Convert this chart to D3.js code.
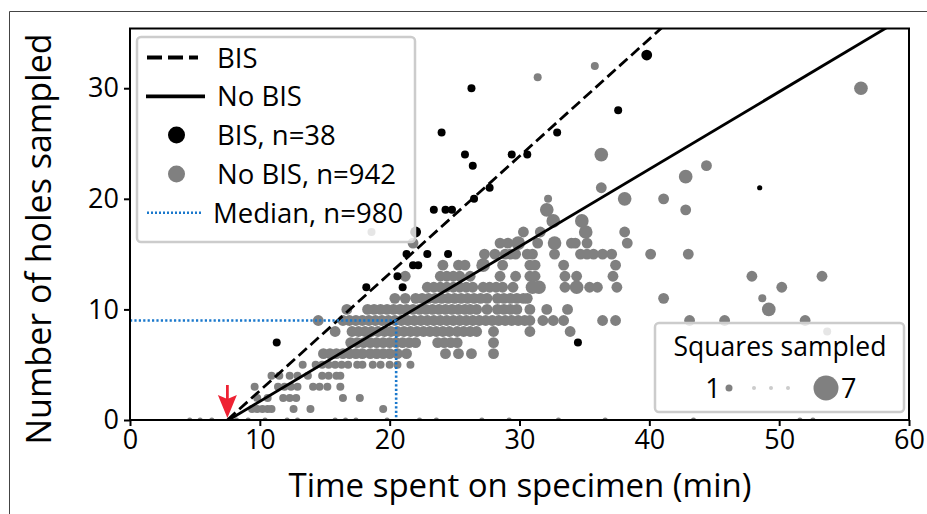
<!DOCTYPE html>
<html>
<head>
<meta charset="utf-8">
<script src="https://cdn.jsdelivr.net/npm/d3@7"></script>
<style>
  body { margin: 0; background: #fff; }
  svg { display: block; font-family: "Open Sans", sans-serif; }
</style>
</head>
<body>
<div id="chart"></div>
<script>
// No BIS samples, one row per number of holes: [holes, squares sampled, minutes...]
const noBisRows = [
  [0, 0, [4.6, 5.4, 6.3, 8.2, 9.1, 10.4, 12.1, 12.9, 15.8, 16.6, 17.4, 19.8, 22.3, 23.6, 27.1, 29.2, 33.0, 36.6, 43.4, 51.6, 52.6]],
  [1, 1, [9.4, 9.8, 10.2, 10.6, 10.9, 12.6, 13.9, 19.5]],
  [2, 1, [9.8, 10.6, 11.8, 12.3, 12.8, 16.4, 17.7]],
  [3, 1, [9.6, 11.4, 11.9, 12.4, 12.9, 14.1, 14.6, 15.2, 16.2]],
  [4, 1, [10.9, 11.5, 12.3, 12.9, 13.7, 14.8, 15.3, 15.9, 16.2]],
  [5, 1, [13.3, 14.3, 14.8, 15.3, 15.8, 16.3, 16.8, 17.5, 17.9, 18.7, 19.3, 20.0, 20.6, 21.6]],
  [6, 2, [14.9, 15.4, 15.9, 16.4, 16.9, 17.4, 17.9, 18.5, 19.0, 19.5, 20.0, 20.6, 21.3, 24.3, 25.3, 26.3, 28.0]],
  [7, 2, [17.0, 17.5, 18.0, 18.5, 19.0, 19.5, 20.0, 20.5, 21.0, 21.5, 22.0, 23.7, 24.2, 24.7, 25.2, 28.0]],
  [8, 2, [15.8, 17.1, 17.6, 18.1, 18.6, 19.1, 19.6, 20.1, 20.6, 21.1, 21.6, 22.1, 22.6, 23.1, 23.6, 24.1, 24.6, 25.2, 25.7, 26.2, 26.7, 28.0, 30.8, 33.9]],
  [8, 1, [53.7]],
  [9, 2, [14.5, 16.4, 16.9, 17.4, 17.9, 18.4, 18.9, 19.4, 19.9, 20.4, 20.9, 21.4, 21.9, 22.4, 22.9, 23.4, 23.9, 24.4, 24.9, 25.4, 25.9, 26.4, 26.9, 27.4, 27.9, 28.4, 28.9, 29.4, 29.9, 30.4, 30.8, 31.8, 32.6, 33.4, 36.4, 37.4, 43.1, 45.8, 52.0]],
  [10, 2, [16.7, 18.3, 18.8, 19.3, 19.8, 20.3, 20.8, 21.3, 21.8, 22.3, 22.8, 23.3, 23.8, 24.3, 24.8, 25.3, 25.8, 26.2, 26.7, 27.5, 28.3, 28.8, 29.3, 29.8, 30.8, 32.1, 33.7]],
  [10, 3, [49.2]],
  [11, 2, [20.4, 21.2, 22.0, 22.5, 23.0, 23.5, 24.0, 24.5, 25.0, 25.5, 26.0, 26.5, 27.0, 27.5, 28.3, 28.8, 29.3, 29.8, 30.3, 30.6, 41.1]],
  [11, 1, [48.7]],
  [12, 2, [22.9, 23.4, 23.9, 24.4, 24.9, 25.4, 25.9, 26.4, 27.2, 27.7, 28.2, 28.7, 29.5, 33.5, 35.4, 36.0, 37.5, 50.2]],
  [12, 3, [31.0, 31.5, 34.4]],
  [13, 2, [21.2, 23.9, 24.4, 24.9, 25.4, 26.2, 28.5, 29.7, 30.8, 31.2, 33.5, 34.4, 37.2, 47.9, 53.3]],
  [14, 2, [24.1, 25.3, 25.8, 28.7, 30.8, 31.2, 33.4, 37.4]],
  [14, 3, [27.2]],
  [15, 2, [27.3, 28.1, 28.9, 29.3, 29.7, 30.6, 31.0, 32.7, 34.7, 35.2, 35.7, 36.4, 37.1, 40.1, 43.0]],
  [16, 2, [21.8, 28.5, 29.1, 31.4, 34.0, 34.3, 35.2, 38.3]],
  [16, 3, [29.9, 32.7]],
  [17, 1, [18.6]],
  [17, 2, [30.3, 31.6, 38.1]],
  [17, 3, [35.1]],
  [18, 3, [32.6, 34.8]],
  [19, 2, [42.8]],
  [19, 3, [32.1]],
  [20, 1, [32.2]],
  [20, 2, [41.1]],
  [20, 3, [38.1]],
  [21, 2, [36.3]],
  [22, 3, [42.8]],
  [23, 2, [44.4]],
  [24, 3, [36.3]],
  [30, 3, [56.3]],
  [31, 1, [31.4]],
  [32, 1, [35.8]]
];

// BIS samples: [minutes, holes, squares sampled]
const bisPoints = [
  [39.8, 33, 2], [26.3, 30, 1], [37.6, 28, 1], [24.0, 26, 1], [32.9, 26, 1],
  [25.8, 24, 1], [29.4, 24, 1], [30.6, 24, 1], [26.4, 23, 1], [27.7, 21, 1],
  [26.5, 20, 1], [23.4, 19, 1], [24.3, 19, 1], [24.8, 19, 1], [22.0, 17, 2],
  [21.3, 15, 1], [22.9, 15, 1], [24.5, 15, 1], [21.8, 14, 1], [22.2, 14, 1],
  [20.6, 13, 1], [21.0, 12, 1], [18.2, 12, 1], [11.3, 7, 1], [34.5, 7, 1],
  [48.5, 21, 0]
];

// fitted lines: [slope (holes per min), x intercept (min)]
const fitBis = [1.06, 7.5];
const fitNoBis = [0.70, 7.6];
const median = [20.5, 9];
const xTicks = [0, 10, 20, 30, 40, 50, 60];
const yTicks = [0, 10, 20, 30];
const legendLabels = ["BIS", "No BIS", "BIS, n=38", "No BIS, n=942", "Median, n=980"];

const width = 927, height = 514;
const svg = d3.select("#chart").append("svg")
    .attr("width", width)
    .attr("height", height);

const x = d3.scaleLinear().domain([0, 60]).range([130, 909]);
const y = d3.scaleLinear().domain([0, 35.4]).range([420, 28.5]);
const r = d3.scaleLinear().domain([1, 7]).range([4, 12.5]);

// outer figure frame
svg.append("path")
    .attr("d", "M9.5,514V11.5H927")
    .attr("fill", "none")
    .attr("stroke", "#444")
    .attr("stroke-width", 1);

const plot = svg.append("g");
plot.append("clipPath").attr("id", "clip")
  .append("rect")
    .attr("x", x(0)).attr("y", y(35.4))
    .attr("width", x(60) - x(0)).attr("height", y(0) - y(35.4));

const body = plot.append("g").attr("clip-path", "url(#clip)");

const grayPts = noBisRows.flatMap(([h, sq, xs]) => xs.map(t => ({t, h, sq})));
body.selectAll(".nobis")
  .data(grayPts)
  .enter().append("circle")
    .attr("class", "nobis")
    .attr("cx", d => x(d.t))
    .attr("cy", d => y(d.h))
    .attr("r", d => r(d.sq))
    .attr("fill", "#808080");

body.selectAll(".bis")
  .data(bisPoints)
  .enter().append("circle")
    .attr("class", "bis")
    .attr("cx", d => x(d[0]))
    .attr("cy", d => y(d[1]))
    .attr("r", d => r(d[2]))
    .attr("fill", "#000");

// regression lines
const lineEnd = ([m, x0]) => [[x0, 0], [60, m * (60 - x0)]];
const line = d3.line().x(d => x(d[0])).y(d => y(d[1]));

body.append("path")
    .attr("d", line(lineEnd(fitBis)))
    .attr("fill", "none").attr("stroke", "#000")
    .attr("stroke-width", 2.8)
    .attr("stroke-dasharray", "11,5");

body.append("path")
    .attr("d", line(lineEnd(fitNoBis)))
    .attr("fill", "none").attr("stroke", "#000")
    .attr("stroke-width", 2.8);

// median guides
body.append("path")
    .attr("d", line([[0, median[1]], [median[0], median[1]], [median[0], 0]]))
    .attr("fill", "none")
    .attr("stroke", "#1a78cc")
    .attr("stroke-width", 2.6)
    .attr("stroke-dasharray", "2.2,2.2");

// red arrow at the x intercept
const ax = x(fitBis[1]);
svg.append("line")
    .attr("x1", ax).attr("x2", ax)
    .attr("y1", y(0) - 35).attr("y2", y(0) - 16)
    .attr("stroke", "#ee2233").attr("stroke-width", 2.8);
svg.append("path")
    .attr("d", `M${ax - 9.5},${y(0) - 25}L${ax},${y(0) - 2}L${ax + 9.5},${y(0) - 25}L${ax},${y(0) - 21}Z`)
    .attr("fill", "#ee2233");

// axes
const xAxis = svg.append("g")
    .attr("transform", `translate(0,${y(0)})`)
    .call(d3.axisBottom(x).tickValues(xTicks).tickSize(6).tickPadding(4));
const yAxis = svg.append("g")
    .attr("transform", `translate(${x(0)},0)`)
    .call(d3.axisLeft(y).tickValues(yTicks).tickSize(6).tickPadding(5));

[xAxis, yAxis].forEach(g => {
  g.select(".domain").remove();
  g.selectAll(".tick line").attr("stroke", "#000").attr("stroke-width", 2);
  g.selectAll(".tick text").attr("font-size", 27).attr("fill", "#000")
    .attr("font-family", "Open Sans, sans-serif");
});

// spines
svg.append("rect")
    .attr("x", x(0)).attr("y", y(35.4))
    .attr("width", x(60) - x(0)).attr("height", y(0) - y(35.4))
    .attr("fill", "none").attr("stroke", "#000").attr("stroke-width", 2);

svg.append("text")
    .attr("x", 520)
    .attr("y", 497)
    .attr("text-anchor", "middle")
    .attr("font-size", 33)
    .text("Time spent on specimen (min)");

svg.append("text")
    .attr("transform", `translate(51,239) rotate(-90)`)
    .attr("text-anchor", "middle")
    .attr("font-size", 34)
    .text("Number of holes sampled");

// main legend
const leg = svg.append("g");
leg.append("rect")
    .attr("x", 137).attr("y", 37)
    .attr("width", 278).attr("height", 205)
    .attr("rx", 4)
    .attr("fill", "#fff").attr("fill-opacity", 0.8)
    .attr("stroke", "#ccc").attr("stroke-width", 2.5);

const rowY = i => 57.5 + i * 38.8;
leg.append("line").attr("x1", 147).attr("x2", 198).attr("y1", rowY(0)).attr("y2", rowY(0))
    .attr("stroke", "#000").attr("stroke-width", 3.8).attr("stroke-dasharray", "15,6");
leg.append("line").attr("x1", 146).attr("x2", 205).attr("y1", rowY(1)).attr("y2", rowY(1))
    .attr("stroke", "#000").attr("stroke-width", 3.8);
leg.append("circle").attr("cx", 176.5).attr("cy", rowY(2)).attr("r", 8.5).attr("fill", "#000");
leg.append("circle").attr("cx", 176.5).attr("cy", rowY(3)).attr("r", 8.5).attr("fill", "#808080");
leg.append("line").attr("x1", 147).attr("x2", 201).attr("y1", rowY(4)).attr("y2", rowY(4))
    .attr("stroke", "#1a78cc").attr("stroke-width", 2.5).attr("stroke-dasharray", "2,2");

leg.selectAll(".lbl")
  .data(legendLabels)
  .enter().append("text")
    .attr("class", "lbl")
    .attr("x", (d, i) => i === 4 ? 213 : 217)
    .attr("y", (d, i) => rowY(i) + 10)
    .attr("font-size", 27.5)
    .text(d => d);

// size legend
const sl = svg.append("g");
sl.append("rect")
    .attr("x", 655).attr("y", 323)
    .attr("width", 249).attr("height", 89)
    .attr("rx", 4)
    .attr("fill", "#fff").attr("fill-opacity", 0.8)
    .attr("stroke", "#ccc").attr("stroke-width", 2.5);
sl.append("text").attr("x", 780).attr("y", 356)
    .attr("text-anchor", "middle").attr("font-size", 26.5)
    .text("Squares sampled");
sl.append("text").attr("x", 713).attr("y", 398)
    .attr("text-anchor", "middle").attr("font-size", 27).text("1");
sl.append("circle").attr("cx", 729).attr("cy", 388).attr("r", 3.5).attr("fill", "#808080");
[754, 771, 788].forEach(cx => sl.append("circle").attr("cx", cx).attr("cy", 388).attr("r", 2).attr("fill", "#ccc"));
sl.append("circle").attr("cx", 826).attr("cy", 388).attr("r", r(7)).attr("fill", "#808080");
sl.append("text").attr("x", 841).attr("y", 398).attr("font-size", 27).text("7");
</script>
</body>
</html>
